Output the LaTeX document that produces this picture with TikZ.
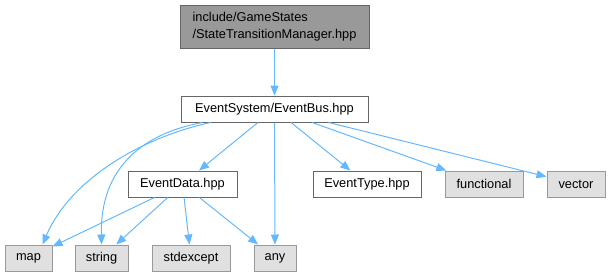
\documentclass[tikz,border=0pt]{standalone}
\usepackage{fontspec}
\setmainfont{Liberation Sans}
\usetikzlibrary{arrows.meta}

\definecolor{edgeblue}{HTML}{63B8FF}
\definecolor{sysfill}{HTML}{E0E0E0}
\definecolor{topfill}{HTML}{999999}

\begin{document}
\begin{tikzpicture}[
    x=1pt, y=-1pt,
    every node/.style={font=\fontsize{12.8}{17}\selectfont, inner sep=0pt, line width=1pt},
    header/.style={draw=gray!80!black, fill=white, minimum height=26pt},
    syshdr/.style={draw=topfill, fill=sysfill, minimum height=26pt},
    current/.style={draw=gray!80!black, fill=topfill, minimum height=43pt, align=left},
    inc/.style={draw=edgeblue, line width=1pt, -{Triangle[length=10pt,width=8pt]}},
  ]
    \useasboundingbox (0,0) rectangle (611,277);

    \node[current, minimum width=189pt] (stm)   at (274.5,26.5)
      {include/GameStates\\/StateTransitionManager.hpp};
    \node[header, minimum width=187pt] (bus)    at (274.5,109) {EventSystem/EventBus.hpp};

    \node[header, minimum width=109pt] (data)   at (182.5,184) {EventData.hpp};
    \node[header, minimum width=108pt] (type)   at (367,184)   {EventType.hpp};
    \node[syshdr, minimum width=78pt]  (func)   at (484,184)   {functional};
    \node[syshdr, minimum width=58pt]  (vector) at (576,184)   {vector};

    \node[syshdr, minimum width=47pt]  (map)    at (28.5,258)  {map};
    \node[syshdr, minimum width=53pt]  (string) at (101.5,258) {string};
    \node[syshdr, minimum width=78pt]  (except) at (191,258)   {stdexcept};
    \node[syshdr, minimum width=42pt]  (any)    at (275,258)   {any};

    \draw[inc] (stm) -- (bus);

    % includes of the event bus
    \draw[inc] ([xshift=-64pt]bus.south) .. controls (140,138) and (70,180) .. ([xshift=14pt]map.north);
    \draw[inc] ([xshift=-72pt]bus.south) .. controls (140,134) and (100,170) .. (string.north);
    \draw[inc] (bus) -- (data);
    \draw[inc] (bus) -- (any);
    \draw[inc] (bus) -- (type);
    \draw[inc] (bus) -- (func);
    \draw[inc] (bus) -- (vector);

    % includes of the event data
    \draw[inc] (data) -- (map);
    \draw[inc] (data) -- (string);
    \draw[inc] (data) -- (except);
    \draw[inc] (data) -- (any);
  \end{tikzpicture}
\end{document}
